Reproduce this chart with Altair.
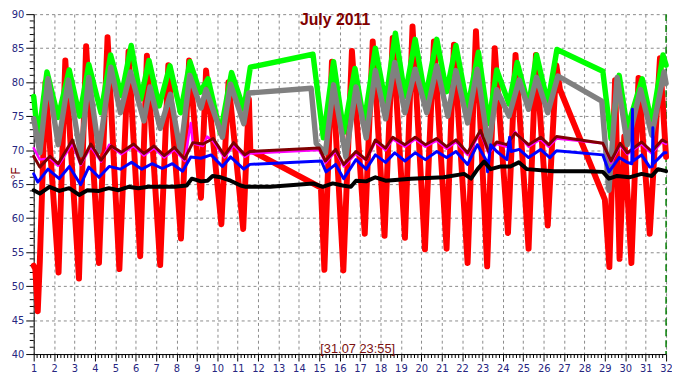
import altair as alt
import pandas as pd

# ---------------- data (day of month, temperature in °F) ----------------
title_text = "July 2011"
stamp_text = "[31.07 23:55]"
unit_text = "°F"
day_ticks = list(range(1, 33))
temp_ticks = list(range(40, 91, 5))
marker_day = [32]

red_days = [1.0, 1.08, 1.2, 1.3, 1.58, 2.22, 2.55, 3.22, 3.57, 4.2, 4.62, 5.2, 5.65, 6.22, 6.55,
            7.2, 7.6, 8.22, 8.62, 9.2, 9.45, 10.2, 10.55, 11.27, 11.55, 11.62, 15.08, 15.25,
            15.62, 16.18, 16.6, 17.23, 17.62, 18.2, 18.6, 19.2, 19.57, 20.18, 20.62, 21.24,
            21.6, 22.27, 22.68, 23.23, 23.6, 24.25, 24.62, 25.26, 25.62, 26.2, 26.62, 26.8,
            29.0, 29.22, 29.5, 29.72, 29.95, 30.3, 30.65, 31.2, 31.7, 32.0]
red_temps = [53.0, 52.5, 46.3, 53.5, 80.0, 52.0, 83.2, 51.1, 85.3, 53.4, 86.6, 52.5, 84.5, 54.4,
             83.9, 53.1, 82.5, 57.0, 83.2, 63.0, 81.7, 59.1, 80.0, 58.4, 77.5, 70.0, 64.5, 52.4,
             83.0, 52.3, 84.6, 57.7, 86.0, 57.4, 86.5, 57.1, 88.2, 55.4, 86.0, 55.5, 85.5, 53.4,
             87.5, 52.9, 85.0, 57.8, 84.0, 55.5, 84.0, 58.9, 82.5, 78.9, 62.7, 52.8, 80.3, 54.0,
             72.0, 53.4, 80.6, 57.7, 83.5, 69.0]

green_days = [1.0, 1.22, 1.65, 2.2, 2.74, 3.25, 3.7, 4.3, 4.77, 5.3, 5.78, 6.25, 6.65, 7.15, 7.68,
              8.2, 8.66, 9.15, 9.55, 10.15, 10.7, 11.3, 11.62, 14.69, 15.2, 15.7, 16.2, 16.75,
              17.2, 17.75, 18.25, 18.73, 19.2, 19.7, 20.2, 20.76, 21.24, 21.7, 22.27, 22.8, 23.3,
              23.7, 24.3, 24.7, 25.26, 25.65, 26.2, 26.65, 28.9, 29.3, 29.7, 30.1, 30.83, 31.3,
              31.85, 32.0]
green_temps = [77.9, 71.5, 81.5, 74.8, 81.8, 75.0, 82.6, 75.5, 84.0, 78.0, 85.4, 77.5, 83.2, 76.5,
               82.4, 75.5, 83.0, 78.5, 80.5, 72.5, 81.4, 76.0, 82.2, 84.1, 71.8, 83.0, 72.6, 82.0,
               74.0, 85.0, 76.9, 87.2, 77.9, 86.3, 77.6, 86.3, 78.6, 85.4, 76.2, 84.4, 73.9, 81.8,
               76.8, 82.9, 76.5, 84.0, 76.9, 84.8, 81.6, 71.7, 81.0, 73.2, 80.5, 73.9, 84.0, 82.5]

gray_days = [1.0, 1.3, 1.7, 2.2, 2.7, 3.3, 3.7, 4.2, 4.78, 5.25, 5.75, 6.4, 6.7, 7.2, 7.7, 8.2,
             8.65, 9.2, 9.45, 10.25, 10.65, 11.3, 11.54, 14.6, 14.85, 15.3, 15.7, 16.3, 16.8,
             17.3, 17.75, 18.25, 18.7, 19.2, 19.7, 20.27, 20.76, 21.3, 21.7, 22.27, 22.74, 23.3,
             23.7, 24.3, 24.8, 25.26, 25.65, 26.2, 26.7, 28.85, 29.2, 29.6, 30.1, 30.75, 31.3,
             31.9, 32.0]
gray_temps = [74.6, 69.6, 80.5, 70.8, 80.3, 69.3, 80.7, 69.8, 82.2, 75.5, 81.5, 74.3, 79.3, 73.2,
              78.2, 69.6, 81.0, 76.2, 78.9, 71.9, 79.7, 73.9, 78.4, 79.1, 71.0, 69.6, 79.6, 69.0,
              79.3, 71.8, 81.7, 74.6, 82.9, 75.5, 81.9, 75.5, 82.4, 75.0, 81.7, 74.0, 81.9, 70.3,
              78.9, 75.0, 80.3, 76.0, 80.7, 75.5, 80.9, 77.2, 64.1, 80.7, 70.8, 78.9, 72.2, 81.5,
              79.8]

maroon_days = [1.0, 1.3, 1.8, 2.2, 2.9, 3.3, 3.8, 4.3, 4.8, 5.3, 5.9, 6.4, 6.9, 7.4, 7.9, 8.4,
               8.8, 9.3, 9.8, 10.35, 10.8, 11.35, 11.6, 15.0, 15.3, 15.8, 16.2, 16.8, 17.3, 17.75,
               18.25, 18.6, 19.2, 19.7, 20.2, 20.75, 21.24, 21.7, 22.27, 22.9, 23.3, 23.7, 24.2,
               24.6, 25.26, 25.85, 26.25, 26.63, 28.9, 29.3, 29.75, 30.1, 30.8, 31.3, 31.8, 32.0]
maroon_temps = [69.1, 67.5, 69.1, 68.0, 71.5, 68.0, 70.9, 68.5, 70.6, 69.7, 70.9, 69.5, 70.6,
                69.2, 70.4, 68.7, 71.1, 70.9, 71.7, 69.2, 71.1, 69.3, 69.8, 70.3, 68.4, 70.1,
                67.9, 69.8, 68.6, 71.5, 70.3, 71.9, 70.8, 71.9, 70.8, 71.7, 70.5, 71.5, 69.6,
                72.9, 69.8, 71.2, 70.8, 72.5, 70.8, 71.9, 70.8, 72.0, 71.0, 68.4, 71.0, 69.6,
                71.2, 69.8, 71.5, 71.2]

magenta_days = [1.0, 1.3, 1.8, 2.2, 2.9, 3.3, 3.8, 4.3, 4.7, 5.3, 5.9, 6.4, 6.9, 7.4, 7.9, 8.4,
                8.7, 8.8, 9.3, 9.5, 9.8, 10.35, 10.8, 11.35, 11.6, 15.0, 15.3, 15.8, 16.2, 16.8,
                17.3, 17.75, 18.25, 18.6, 19.2, 19.7, 20.2, 20.75, 21.24, 21.7, 22.27, 22.9, 23.3,
                23.7, 24.2, 24.6, 25.26, 25.85, 26.25, 26.63, 28.9, 29.3, 29.75, 30.1, 30.8, 31.3,
                31.8, 32.0]
magenta_temps = [70.3, 68.6, 68.8, 67.7, 71.0, 67.8, 70.5, 68.3, 70.8, 69.4, 70.6, 69.2, 70.3,
                 68.9, 70.1, 68.4, 74.0, 71.0, 70.6, 72.0, 71.3, 68.9, 70.7, 69.0, 69.5, 70.0,
                 68.1, 69.8, 67.6, 69.5, 68.5, 71.2, 70.0, 71.6, 70.5, 71.6, 70.5, 71.4, 70.2,
                 71.2, 69.3, 72.6, 69.5, 70.9, 70.5, 72.7, 70.5, 71.6, 70.5, 71.7, 71.0, 68.1,
                 70.7, 69.4, 70.9, 69.5, 71.2, 70.9]

blue_days = [1.0, 1.2, 1.7, 2.25, 2.75, 3.3, 3.7, 4.2, 4.7, 5.25, 5.8, 6.3, 6.8, 7.3, 7.8, 8.3,
             8.7, 9.2, 9.7, 10.25, 10.65, 11.3, 11.6, 15.1, 15.33, 15.8, 16.2, 16.8, 17.3, 17.75,
             18.25, 18.7, 19.2, 19.7, 20.2, 20.76, 21.24, 21.7, 22.27, 22.75, 23.2, 23.25, 23.4,
             23.7, 24.2, 24.33, 24.4, 24.8, 25.26, 25.85, 26.3, 26.63, 28.9, 29.2, 29.7, 30.1,
             30.32, 30.35, 30.38, 30.8, 31.2, 31.33, 31.35, 31.37, 31.9, 32.0]
blue_temps = [66.5, 65.3, 67.2, 65.8, 67.6, 64.9, 67.5, 66.0, 67.6, 67.2, 68.2, 67.2, 68.0, 67.3,
              68.0, 66.9, 69.0, 68.8, 69.3, 67.6, 69.0, 67.2, 67.9, 68.4, 66.8, 67.9, 65.8, 68.6,
              67.2, 69.3, 68.2, 69.6, 68.4, 69.6, 68.6, 69.8, 68.9, 69.8, 67.9, 70.8, 68.4, 66.8,
              70.8, 69.8, 68.6, 71.9, 69.8, 70.1, 68.9, 70.1, 68.9, 69.9, 69.3, 66.8, 68.9, 68.2,
              68.0, 76.0, 68.4, 69.3, 67.5, 67.6, 73.3, 68.0, 69.6, 69.6]

black_days = [1.0, 1.3, 1.77, 2.26, 2.74, 3.23, 3.63, 4.2, 4.68, 5.16, 5.65, 6.13, 6.62, 7.26,
              7.9, 8.5, 8.75, 9.2, 9.52, 9.77, 10.17, 10.65, 11.14, 11.4, 12.6, 14.7, 15.17,
              15.66, 16.14, 16.55, 16.8, 17.3, 17.75, 18.25, 19.5, 21.1, 22.1, 22.44, 22.76,
              23.08, 23.4, 23.9, 24.37, 24.78, 25.18, 26.47, 28.1, 28.9, 29.2, 29.6, 30.2, 30.8,
              31.3, 31.6, 32.0]
black_temps = [64.1, 63.6, 64.6, 64.0, 64.4, 63.4, 64.1, 64.0, 64.4, 64.1, 64.6, 64.4, 64.6,
               64.6, 64.6, 64.8, 65.8, 65.4, 65.5, 66.2, 66.0, 65.5, 64.8, 64.6, 64.6, 65.1,
               64.6, 65.1, 64.8, 64.6, 65.5, 65.4, 66.0, 65.5, 65.8, 66.0, 66.5, 65.8, 67.2,
               68.3, 67.2, 67.6, 67.6, 68.2, 67.2, 66.9, 66.9, 66.8, 65.8, 66.2, 66.0, 66.5,
               66.2, 67.2, 66.9]

# minor tick positions (every 4 h on x, every 1 °F on y)
minor_x = [1 + k / 6 for k in range(1, 31 * 6) if k % 6]
minor_y = [v for v in range(41, 90) if v % 5]

# ---------------- chart ----------------
W, H = 640, 344
LABEL = "#262680"
MAROON = "#800000"

xs = alt.Scale(domain=[1, 32], nice=False, zero=False)
ys = alt.Scale(domain=[40, 90], nice=False, zero=False)

common_axis = dict(title=None, grid=True, gridColor="#8a8a8a", gridDash=[3, 3], gridWidth=1,
                   domainColor="#000000", domainWidth=1, tickColor="#000000", tickWidth=1,
                   labelColor=LABEL, labelFont="DejaVu Sans", labelFontSize=10,
                   labelFlush=False, labelOverlap=False, format="d")
x_axis = alt.Axis(values=day_ticks, tickSize=7, labelPadding=3, **common_axis)
y_axis = alt.Axis(values=temp_ticks, tickSize=8, labelPadding=2, **common_axis)


def X():
    return alt.X("day:Q", scale=xs, axis=x_axis)


def Y():
    return alt.Y("temp:Q", scale=ys, axis=y_axis)


def line(days, temps, color, width):
    df = pd.DataFrame({"day": days, "temp": temps})
    return alt.Chart(df).mark_line(color=color, strokeWidth=width, strokeJoin="round",
                                   strokeCap="round").encode(x=X(), y=Y())


minor_x_layer = alt.Chart(pd.DataFrame({"day": minor_x})).mark_rule(
    color="#000000", strokeWidth=1).encode(x=X(), y=alt.value(H), y2=alt.value(H + 4))
minor_y_layer = alt.Chart(pd.DataFrame({"temp": minor_y})).mark_rule(
    color="#000000", strokeWidth=1).encode(y=Y(), x=alt.value(-4), x2=alt.value(0))
marker = alt.Chart(pd.DataFrame({"day": marker_day})).mark_rule(
    color="#007a00", strokeWidth=1.5, strokeDash=[7, 4]).encode(x=X())

lines = [
    line(red_days, red_temps, "#ff0000", 6),
    line(green_days, green_temps, "#00ff00", 5.5),
    line(gray_days, gray_temps, "#808080", 5.5),
    line(magenta_days, magenta_temps, "#ff00ff", 2.5),
    line(maroon_days, maroon_temps, MAROON, 3),
    line(blue_days, blue_temps, "#0000ff", 3),
    line(black_days, black_temps, "#000000", 4),
]

title = alt.Chart(pd.DataFrame({"t": [title_text]})).mark_text(
    font="Liberation Sans", fontSize=16, fontWeight="bold", color=MAROON,
    align="center", baseline="alphabetic").encode(text="t:N", x=alt.value(305), y=alt.value(11))
stamp = alt.Chart(pd.DataFrame({"t": [stamp_text]})).mark_text(
    font="Liberation Sans", fontSize=13, color="#7a1010",
    align="left", baseline="alphabetic").encode(text="t:N", x=alt.value(290), y=alt.value(343))
unit = alt.Chart(pd.DataFrame({"t": [unit_text]})).mark_text(
    font="Liberation Sans", fontSize=12, color=MAROON, angle=270,
    align="center", baseline="alphabetic").encode(text="t:N", x=alt.value(-14), y=alt.value(161))

chart = alt.layer(minor_x_layer, minor_y_layer, marker, *lines, title, stamp, unit).properties(
    width=W, height=H,
    padding={"left": 26, "top": 4, "right": 6, "bottom": 22},
    autosize=alt.AutoSizeParams(type="none"),
).configure(background="white").configure_view(stroke=None)

chart.save("out.html", embed_options={"renderer": "svg", "actions": False})
